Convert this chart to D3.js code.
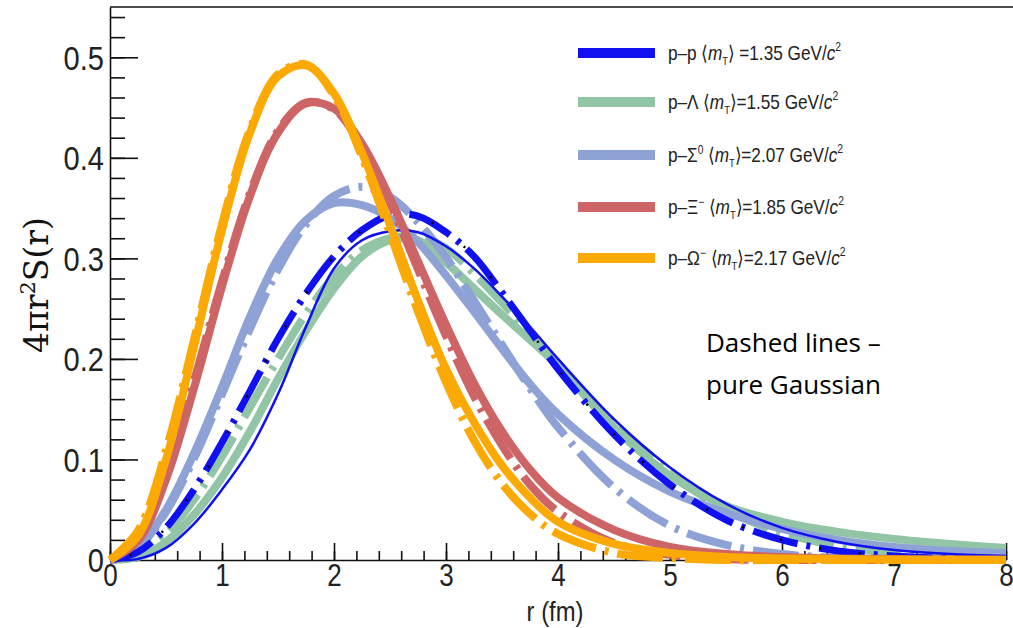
<!DOCTYPE html>
<html>
<head>
<meta charset="utf-8">
<script src="https://cdn.jsdelivr.net/npm/d3@7"></script>
<style>
  body { margin: 0; background: #fff; }
  #chart svg { display: block; }
</style>
</head>
<body>
<div id="chart"></div>
<script>
"use strict";

// == DATA ==
var radius = [0, 0.25, 0.5, 0.75, 1, 1.25, 1.5, 1.75, 2, 2.25, 2.5, 2.75, 3, 3.25, 3.5, 3.75, 4, 4.5, 5, 5.5, 6, 6.5, 7, 7.5, 8];

var ppSolid       = [0, 0.001, 0.012, 0.036, 0.070, 0.110, 0.165, 0.232, 0.290, 0.318, 0.327, 0.326, 0.312, 0.290, 0.262, 0.232, 0.200, 0.140, 0.092, 0.056, 0.032, 0.018, 0.010, 0.006, 0.004];
var ppDashed      = [0, 0.008, 0.032, 0.070, 0.117, 0.168, 0.220, 0.265, 0.302, 0.328, 0.343, 0.342, 0.326, 0.302, 0.266, 0.228, 0.190, 0.125, 0.075, 0.040, 0.020, 0.009, 0.004, 0.0015, 0.0005];
var pLambdaSolid  = [0, 0.003, 0.018, 0.045, 0.082, 0.128, 0.180, 0.228, 0.270, 0.302, 0.318, 0.318, 0.296, 0.270, 0.244, 0.219, 0.193, 0.132, 0.084, 0.054, 0.038, 0.028, 0.021, 0.016, 0.012];
var pLambdaDashed = [0, 0.006, 0.026, 0.060, 0.103, 0.152, 0.200, 0.245, 0.282, 0.308, 0.320, 0.322, 0.310, 0.285, 0.256, 0.226, 0.195, 0.136, 0.086, 0.050, 0.027, 0.014, 0.007, 0.003, 0.0015];
var pSigmaSolid   = [0, 0.012, 0.050, 0.106, 0.172, 0.242, 0.300, 0.338, 0.355, 0.353, 0.340, 0.316, 0.283, 0.247, 0.210, 0.175, 0.145, 0.100, 0.068, 0.047, 0.031, 0.020, 0.013, 0.009, 0.007];
var pSigmaDashed  = [0, 0.012, 0.048, 0.101, 0.165, 0.230, 0.289, 0.334, 0.362, 0.371, 0.361, 0.336, 0.301, 0.258, 0.214, 0.171, 0.132, 0.072, 0.034, 0.015, 0.006, 0.002, 0.001, 0, 0];
var pXiSolid      = [0, 0.019, 0.080, 0.171, 0.272, 0.362, 0.425, 0.454, 0.449, 0.414, 0.360, 0.297, 0.234, 0.176, 0.128, 0.090, 0.062, 0.030, 0.013, 0.006, 0.003, 0.0015, 0.001, 0.0005, 0.0003];
var pXiDashed     = [0, 0.023, 0.087, 0.178, 0.277, 0.365, 0.427, 0.455, 0.448, 0.411, 0.355, 0.289, 0.223, 0.163, 0.114, 0.075, 0.048, 0.017, 0.005, 0.001, 0, 0, 0, 0, 0];
var pOmegaSolid   = [0, 0.024, 0.100, 0.212, 0.328, 0.425, 0.481, 0.492, 0.464, 0.405, 0.333, 0.258, 0.190, 0.137, 0.094, 0.062, 0.038, 0.016, 0.007, 0.003, 0.0015, 0.001, 0.0005, 0.0003, 0.0002];
var pOmegaDashed  = [0, 0.029, 0.109, 0.219, 0.334, 0.428, 0.483, 0.493, 0.462, 0.401, 0.325, 0.247, 0.177, 0.119, 0.076, 0.046, 0.026, 0.007, 0.002, 0, 0, 0, 0, 0, 0];

var pairNames = ["p\u2013p", "p\u2013\u039B", "p\u2013\u03A3", "p\u2013\u039E", "p\u2013\u03A9"];
var pairSups  = ["", "", "0", "\u2212", "\u2212"];
var mtValues  = ["1.35", "1.55", "2.07", "1.85", "2.17"];
var colors    = ["#1010f0", "#92c5a6", "#8ea2d6", "#cd6567", "#fbaa05"];

var xTicks = [0, 1, 2, 3, 4, 5, 6, 7, 8];
var yTicks = [0, 0.1, 0.2, 0.3, 0.4, 0.5];

// == BOILERPLATE ==
var width = 1013, height = 628;

var svg = d3.select("#chart")
            .append("svg")
            .attr("width", width)
            .attr("height", height);

var xScale = d3.scaleLinear().domain([0, 8]).range([110, 1006]);
var yScale = d3.scaleLinear().domain([0, 0.55]).range([560, 7]);

// == AXES ==
var tickFont = "'Liberation Sans', Arial, sans-serif";

svg.append("g")
   .attr("transform", "translate(0,560)")
   .call(d3.axisBottom(xScale).tickValues(d3.range(0, 8.001, 0.2)).tickSize(-9).tickFormat(""))
   .call(function (g) { g.select(".domain").remove(); });

var xAxis = svg.append("g")
   .attr("transform", "translate(0,560)")
   .call(d3.axisBottom(xScale).tickValues(xTicks).tickSizeInner(-17).tickSizeOuter(0).tickPadding(4).tickFormat(d3.format("d")));

svg.append("g")
   .attr("transform", "translate(110,0)")
   .call(d3.axisLeft(yScale).tickValues(d3.range(0, 0.5401, 0.02)).tickSize(-15).tickFormat(""))
   .call(function (g) { g.select(".domain").remove(); });

var yAxis = svg.append("g")
   .attr("transform", "translate(110,0)")
   .call(d3.axisLeft(yScale).tickValues(yTicks).tickSizeInner(-28).tickSizeOuter(0).tickPadding(7)
         .tickFormat(function (d) { return d === 0 ? "0" : d3.format(".1f")(d); }));

svg.selectAll(".tick line").attr("stroke", "#111").attr("stroke-width", 1.6);
svg.selectAll(".domain").attr("stroke", "#111").attr("stroke-width", 1.6);

xAxis.selectAll("text")
     .attr("font-family", tickFont).attr("font-size", 31).attr("fill", "#222")
     .attr("transform", "scale(0.84,1)");
yAxis.selectAll("text")
     .attr("font-family", tickFont).attr("font-size", 33).attr("fill", "#222")
     .attr("dy", "0.36em")
     .attr("transform", "scale(0.88,1)");

// top frame line
svg.append("line")
   .attr("x1", xScale(0)).attr("x2", width)
   .attr("y1", yScale(0.55)).attr("y2", yScale(0.55))
   .attr("stroke", "#111").attr("stroke-width", 1.6);

// == CURVES ==
var line = d3.line()
             .x(function (d) { return xScale(d[0]); })
             .y(function (d) { return yScale(Math.max(d[1], 0)); })
             .curve(d3.curveCatmullRom.alpha(0.5));

function drawCurve(values, color, widthPx, dash) {
  var pts = radius.map(function (r, i) { return [r, values[i]]; });
  var p = svg.append("path")
     .attr("d", line(pts))
     .attr("fill", "none")
     .attr("stroke", color)
     .attr("stroke-width", widthPx)
     .attr("stroke-linejoin", "round");
  if (dash) p.attr("stroke-dasharray", dash);
  return p;
}

var dashStyle = "46,9,4,9";

drawCurve(pLambdaSolid, colors[1], 8);
drawCurve(pLambdaDashed, colors[1], 8, dashStyle);
drawCurve(pSigmaSolid, colors[2], 8);
drawCurve(pSigmaDashed, colors[2], 8, dashStyle);
drawCurve(ppDashed, colors[0], 7, dashStyle);
drawCurve(ppDashed, "#000", 2.5, "2,38").attr("stroke-dashoffset", -20);
drawCurve(ppSolid, colors[0], 2.5);
drawCurve(pXiSolid, colors[3], 8);
drawCurve(pXiDashed, colors[3], 8, dashStyle);
drawCurve(pOmegaSolid, colors[4], 8);
drawCurve(pOmegaDashed, colors[4], 8, dashStyle);

// == LEGEND ==
var legendRows = [53, 102, 155, 207, 258];
var legend = svg.append("g");

pairNames.forEach(function (name, i) {
  var y = legendRows[i];
  legend.append("line")
        .attr("x1", 578).attr("x2", 655)
        .attr("y1", y).attr("y2", y)
        .attr("stroke", colors[i]).attr("stroke-width", 10);

  var t = legend.append("text")
        .attr("transform", "translate(668," + (y + 7) + ") scale(0.86,1)")
        .attr("font-family", tickFont)
        .attr("font-size", 20)
        .attr("fill", "#222");
  t.append("tspan").text(name);
  if (pairSups[i]) {
    t.append("tspan").attr("dy", -8).attr("font-size", 12).text(pairSups[i]);
    t.append("tspan").attr("dy", 8).text(" \u27E8");
  } else {
    t.append("tspan").text(" \u27E8");
  }
  t.append("tspan").attr("font-style", "italic").text("m");
  t.append("tspan").attr("dy", 5).attr("font-size", 11).text("T");
  t.append("tspan").attr("dy", -5).text("\u27E9" + (i === 0 ? " " : "") + "=" + mtValues[i] + " GeV/");
  t.append("tspan").attr("font-style", "italic").text("c");
  t.append("tspan").attr("dy", -9).attr("font-size", 12).text("2");
});

// == LABELS ==
svg.append("text")
   .attr("transform", "translate(555,621) scale(0.85,1)")
   .attr("text-anchor", "middle")
   .attr("font-family", tickFont)
   .attr("font-size", 28)
   .attr("fill", "#222")
   .text("r (fm)");

var yLab = svg.append("text")
   .attr("transform", "translate(48,285) rotate(-90)")
   .attr("text-anchor", "middle")
   .attr("font-family", "'DejaVu Serif', 'Liberation Serif', serif")
   .attr("font-size", 33)
   .attr("fill", "#111");
yLab.append("tspan").text("4\u03C0r");
yLab.append("tspan").attr("dy", -13).attr("font-size", 21).text("2");
yLab.append("tspan").attr("dy", 13).text("S(r)");

var note = svg.append("text")
   .attr("font-family", "'Open Sans', 'Noto Sans', sans-serif")
   .attr("font-size", 26)
   .attr("fill", "#000");
note.append("tspan").attr("x", 706).attr("y", 352).text("Dashed lines \u2013");
note.append("tspan").attr("x", 706).attr("y", 394).text("pure Gaussian");
</script>
</body>
</html>
